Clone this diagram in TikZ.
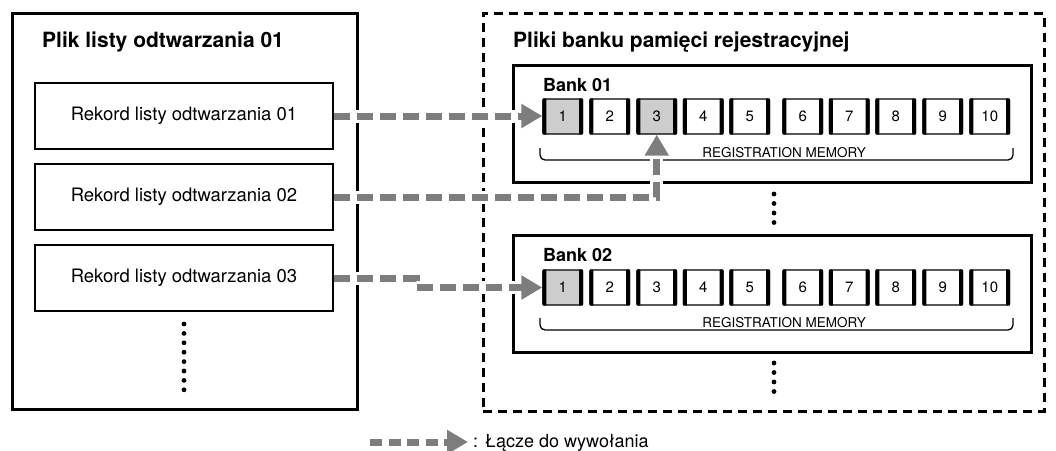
\documentclass[tikz,border=0pt]{standalone}
\usepackage{fontspec}
\setmainfont{TeX Gyre Heros}
\usetikzlibrary{arrows.meta}
\definecolor{linkgray}{RGB}{125,125,125}
\definecolor{btngray}{RGB}{205,205,205}
\newcommand\regbtn[5]{%
  \node[btn, fill=#5] (#1) at (#2,#3) {#4};
  \fill[black, rounded corners=1pt] (#1.south west) rectangle ([xshift=4pt]#1.north west);
  \fill[black, rounded corners=1pt] ([xshift=-4pt]#1.south east) rectangle (#1.north east);
}
\begin{document}
\begin{tikzpicture}[x=1pt,y=-1pt,
  bigbox/.style={draw, line width=3pt, inner sep=0pt},
  recbox/.style={draw, line width=2pt, minimum width=298pt, minimum height=66pt, inner sep=0pt, font=\fontsize{18.5}{20}\selectfont},
  btn/.style={draw, line width=1.3pt, rounded corners=2pt, minimum width=39.5pt, minimum height=35pt, inner sep=0pt, font=\fontsize{15}{15}\selectfont},
  title/.style={anchor=base west, inner sep=0pt, font=\fontsize{21}{22}\selectfont\bfseries},
  banklabel/.style={anchor=base west, inner sep=0pt, font=\fontsize{18}{20}\selectfont\bfseries},
  regtext/.style={anchor=base, inner sep=0pt, font=\fontsize{13.5}{14}\selectfont},
  bracket/.style={draw, line width=1.3pt, rounded corners=5pt},
  dot/.style={fill=black},
  link/.style={draw=linkgray, line width=7pt, dash pattern=on 16pt off 7pt,
    -{Triangle[length=21pt,width=23pt]},
    preaction={draw=white, line width=13pt, solid, arrows=-, shorten >=20pt, shorten <=1.5pt}},
]
\useasboundingbox (0,0) rectangle (1056,450);

% left file box
\node[bigbox, minimum width=345pt, minimum height=396pt] (plfile) at (184.5,211) {};
\node[title] (pltitle) at (42,47) {Plik listy odtwarzania 01};
\node[recbox] (r1) at (184,116) {Rekord listy odtwarzania 01};
\node[recbox] (r2) at (184,197) {Rekord listy odtwarzania 02};
\node[recbox] (r3) at (184,278) {Rekord listy odtwarzania 03};
\foreach \k in {0,...,7}{\fill[dot] (184,{324+9.4*\k}) circle (2.4pt);}

% right region
\node[draw, line width=3pt, dash pattern=on 9pt off 6pt, minimum width=561pt, minimum height=398pt, inner sep=0pt] (regfiles) at (763.5,212) {};
\node[title] (rgtitle) at (513,47) {Pliki banku pamięci rejestracyjnej};

% bank 01
\node[bigbox, minimum width=518pt, minimum height=117pt] (bank1) at (772,123.5) {};
\node[banklabel] (bank1l) at (543,91) {Bank 01};
\foreach \n/\x/\f in {1/562.75/btngray,2/609.75/white,3/656.75/btngray,4/703.25/white,5/749.75/white,6/802.75/white,7/849.25/white,8/895.75/white,9/942.75/white,10/989.75/white}{
  \regbtn{a\n}{\x}{116.5}{\n}{\f}
}
\draw[bracket] (540,148) -- (540,160) -- (1013,160) -- (1013,148);
\node[regtext] (reg1) at (784,157) {REGISTRATION MEMORY};

\foreach \y in {194,203.5,213,222.5}{\fill[dot] (774,\y) circle (2.4pt);}

% bank 02
\node[bigbox, minimum width=518pt, minimum height=117pt] (bank2) at (772,293.5) {};
\node[banklabel] (bank2l) at (543,261) {Bank 02};
\foreach \n/\x/\f in {1/562.75/btngray,2/609.75/white,3/656.75/white,4/703.25/white,5/749.75/white,6/802.75/white,7/849.25/white,8/895.75/white,9/942.75/white,10/989.75/white}{
  \regbtn{b\n}{\x}{287.5}{\n}{\f}
}
\draw[bracket] (540,318) -- (540,330) -- (1013,330) -- (1013,318);
\node[regtext] (reg2) at (784,327) {REGISTRATION MEMORY};

\foreach \y in {363,372.5,382,391.5}{\fill[dot] (774,\y) circle (2.4pt);}

% links
\draw[link] (r1.east) -- (r1.east -| a1.west);
\draw[link] (r2.east) -| (a3.south);
\coordinate (k3) at (416,278);
\draw[link] (r3.east) -- (k3) |- (b1.west);

% legend
\coordinate (lg0) at (370,442);
\node[anchor=base west, inner xsep=5pt, inner ysep=0pt, font=\fontsize{18}{20}\selectfont] (leg) at (468,447) {: Łącze do wywołania};
\draw[link, dash pattern=on 12pt off 6.5pt] (lg0) -- (lg0 -| leg.west);
\end{tikzpicture}
\end{document}
